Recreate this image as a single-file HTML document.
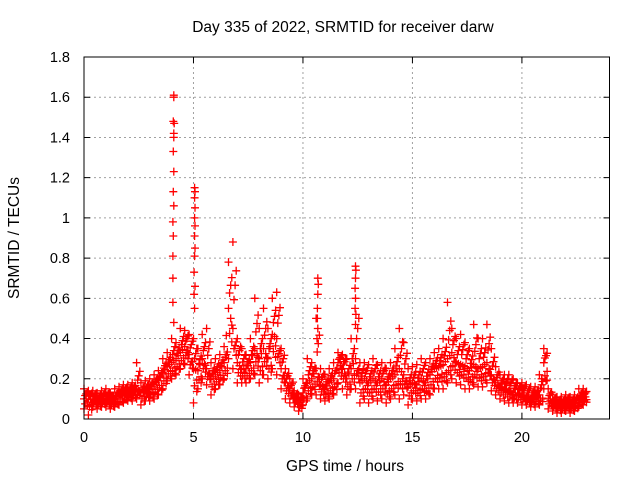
<!DOCTYPE html>
<html><head><meta charset="utf-8"><style>
body{margin:0;background:#fff}
svg{display:block;font-family:"Liberation Sans",sans-serif}
</style></head><body>
<svg id="c" width="640" height="480">
<rect width="640" height="480" fill="#fff"/>
<text x="343" y="32" font-size="15.5" text-anchor="middle">Day 335 of 2022, SRMTID for receiver darw</text>
<text x="345" y="471" font-size="15.5" text-anchor="middle">GPS time / hours</text>
<text transform="translate(19,238) rotate(-90)" font-size="15.5" text-anchor="middle">SRMTID / TECUs</text>
<g id="grid"></g><g id="pts"></g><g id="axes"></g>
</svg>
<script>
const xTicks=[0,5,10,15,20];
const yTicks=[0,0.2,0.4,0.6,0.8,1,1.2,1.4,1.6,1.8];
const yTickLabels=["0","0.2","0.4","0.6","0.8","1","1.2","1.4","1.6","1.8"];
const tStart=0, tStep=0.2;
const midVals=[.10,.10,.10,.09,.10,.10,.09,.10,.12,.13,.13,.14,.15,.13,.14,.15,.17,.19,.23,.26,.28,.30,.33,.36,.32,.25,.24,.30,.25,.20,.22,.24,.28,.55,.45,.28,.25,.25,.28,.35,.30,.35,.30,.42,.40,.25,.18,.15,.10,.08,.13,.18,.20,.25,.17,.15,.18,.20,.28,.25,.20,.25,.30,.18,.20,.18,.20,.18,.20,.17,.20,.22,.25,.22,.16,.18,.17,.20,.18,.22,.25,.26,.27,.30,.33,.28,.27,.26,.24,.27,.25,.26,.28,.22,.18,.16,.15,.14,.13,.13,.12,.11,.10,.11,.12,.28,.10,.08,.07,.07,.08,.07,.08,.10,.11];
const lowVals=[.05,.02,.06,.05,.06,.06,.05,.06,.07,.08,.09,.09,.10,.07,.09,.09,.10,.12,.15,.19,.20,.22,.25,.27,.22,.08,.15,.20,.17,.12,.15,.17,.20,.30,.25,.18,.18,.18,.20,.22,.18,.22,.20,.25,.22,.15,.10,.08,.06,.04,.07,.10,.12,.12,.10,.09,.10,.12,.18,.15,.12,.15,.15,.08,.10,.08,.10,.09,.10,.08,.10,.12,.10,.12,.07,.10,.09,.10,.10,.12,.15,.15,.15,.18,.20,.18,.17,.15,.15,.17,.16,.16,.18,.14,.12,.10,.09,.08,.08,.08,.07,.07,.06,.06,.07,.15,.05,.04,.03,.03,.04,.03,.04,.06,.07];
const highVals=[.15,.14,.14,.13,.14,.15,.13,.15,.16,.17,.17,.18,.28,.18,.19,.20,.22,.24,.30,.33,.40,.38,.45,.44,.42,.40,.35,.42,.45,.28,.30,.32,.36,.78,.88,.40,.35,.32,.40,.60,.45,.55,.45,.60,.63,.35,.25,.20,.14,.12,.20,.30,.28,.50,.25,.22,.25,.28,.33,.32,.30,.40,.60,.28,.28,.27,.30,.27,.28,.25,.28,.35,.45,.38,.25,.26,.27,.30,.28,.30,.33,.35,.40,.58,.45,.40,.42,.38,.35,.47,.40,.40,.47,.35,.26,.22,.22,.22,.20,.18,.18,.17,.16,.16,.22,.35,.15,.12,.11,.11,.12,.11,.12,.15,.15];
const spikeTimes=[4.1,4.1,4.08,4.12,4.1,4.1,4.08,4.1,4.08,4.1,4.06,4.08,4.06,4.06,4.06,4.1,5.05,5.07,5.05,5.07,5.05,5.07,5.05,5.07,5.05,5.03,5.07,5.03,5.05,10.68,10.7,10.68,10.66,10.66,10.68,10.64,12.4,12.42,12.4,12.38,12.4,12.38,12.42,12.4];
const spikeVals=[1.61,1.6,1.48,1.47,1.42,1.40,1.33,1.23,1.13,1.06,0.98,0.91,0.81,0.70,0.58,0.48,1.15,1.13,1.10,1.05,1.0,0.96,0.91,0.85,0.81,0.73,0.66,0.62,0.55,0.70,0.67,0.62,0.55,0.50,0.45,0.40,0.76,0.74,0.70,0.65,0.60,0.55,0.52,0.47];

const L=84,R=609.5,T=57,B=419,XMAX=24,YMAX=1.8;
const sx=v=>L+(R-L)*v/XMAX, sy=v=>B-(B-T)*v/YMAX;
const NS="http://www.w3.org/2000/svg";
function mk(tag,attrs,parent){const e=document.createElementNS(NS,tag);for(const k in attrs)e.setAttribute(k,attrs[k]);parent.appendChild(e);return e;}
const grid=document.getElementById('grid'),pts=document.getElementById('pts'),axes=document.getElementById('axes');
yTicks.forEach((v,i)=>{
  const y=sy(v);
  if(v>0&&v<YMAX){const g=mk('line',{x1:L,x2:R,y1:y,y2:y,stroke:'#a0a0a0','stroke-dasharray':'2,3','stroke-width':1},grid);
  
  }
  const tk=mk('path',{d:`M${L} ${y}h6M${R} ${y}h-6`,stroke:'#000'},axes);
  
  
  const t=mk('text',{x:70,y:y+5,'font-size':14.5,'text-anchor':'end'},axes);t.textContent=yTickLabels[i];
  
  
});
xTicks.forEach(v=>{
  const x=sx(v);
  if(v>0){const g=mk('line',{x1:x,x2:x,y1:T,y2:B,stroke:'#a0a0a0','stroke-dasharray':'2,3','stroke-width':1},grid);
  
  }
  const tk=mk('path',{d:`M${x} ${B}v-6M${x} ${T}v6`,stroke:'#000'},axes);
  
  
  const t=mk('text',{x:x,y:B+23,'font-size':14.5,'text-anchor':'middle'},axes);t.textContent=String(v);
  
  
});
const frame=mk('rect',{x:L,y:T,width:R-L,height:B-T,fill:'none',stroke:'#000','stroke-width':1},axes);


let d='';
function plus(t,v){const x=sx(t),y=sy(v);d+=`M${(x-4).toFixed(1)} ${y.toFixed(1)}h8M${x.toFixed(1)} ${(y-4).toFixed(1)}v8`;}
[lowVals,midVals,highVals].forEach(arr=>arr.forEach((v,i)=>plus(tStart+i*tStep,v)));
// fill between envelopes and median to make the dense band
midVals.forEach((v,i)=>{
  const t=tStart+i*tStep, lo=lowVals[i], hi=highVals[i];
  const nx=i+1<midVals.length?midVals[i+1]:v;
  plus(t+0.1,(v+nx)/2);
  plus(t+0.05,(v+lo)/2);plus(t+0.15,(v*2+lo)/3);
  plus(t+0.1,(v+hi)/2);plus(t+0.05,(v*2+hi)/3);plus(t+0.15,(v+hi*2)/3);
  plus(t+0.15,(v+lo*2)/3);
});
spikeTimes.forEach((t,i)=>plus(t,spikeVals[i]));
const p=mk('path',{d:d,stroke:'#ff0000','stroke-width':1.3,fill:'none'},pts);


</script>
</body></html>
